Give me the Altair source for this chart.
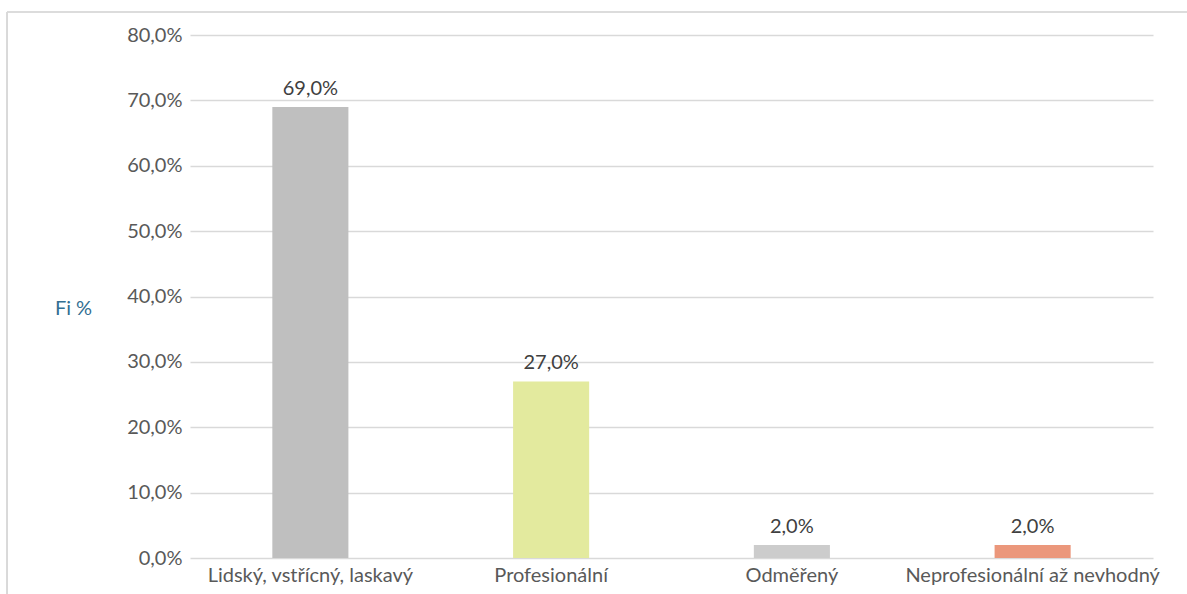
import altair as alt
import pandas as pd

categories = ["Lidský, vstřícný, laskavý", "Profesionální", "Odměřený", "Neprofesionální až nevhodný"]
shares = [0.69, 0.27, 0.02, 0.02]
bar_colors = ["#BFBFBF", "#E3EA9E", "#CCCCCC", "#EB977B"]
y_ticks = [0.0, 0.1, 0.2, 0.3, 0.4, 0.5, 0.6, 0.7, 0.8]

df = pd.DataFrame({"kategorie": categories, "podil": shares, "barva": bar_colors})

FONT = "Lato"
FS = 20
TEXT = "#595959"

x_enc = alt.X(
    "kategorie:N",
    sort=categories,
    scale=alt.Scale(paddingInner=0.684, paddingOuter=0.342),
    axis=alt.Axis(
        title=None, labelAngle=0, ticks=False, domain=False, labelLimit=0, grid=False,
        labelFont=FONT, labelFontSize=FS, labelColor=TEXT, labelPadding=7,
    ),
)

y_enc = alt.Y(
    "podil:Q",
    scale=alt.Scale(domain=[0, 0.8], nice=False),
    axis=alt.Axis(
        values=y_ticks,
        labelExpr="replace(format(datum.value, '.1%'), '.', ',')",
        title="Fi %", titleAngle=0, titleX=-117, titleY=273,
        titleAlign="center", titleBaseline="middle",
        titleFont=FONT, titleFontSize=FS, titleFontWeight="normal", titleColor="#336F92",
        labelFont=FONT, labelFontSize=FS, labelColor=TEXT, labelPadding=8,
        ticks=False, domain=False,
        grid=True, gridColor="#D9D9D9", gridWidth=1.5,
    ),
)

bars = alt.Chart(df).mark_bar().encode(
    x=x_enc,
    y=y_enc,
    color=alt.Color("barva:N", scale=None),
)

labels = alt.Chart(df).transform_calculate(
    popis="replace(format(datum.podil, '.1%'), '.', ',')"
).mark_text(
    font=FONT, fontSize=FS, color="#404040", baseline="alphabetic", dy=-12
).encode(
    x=alt.X("kategorie:N", sort=categories),
    y="podil:Q",
    text="popis:N",
)

# outer frame of the chart area, drawn as four separate edges
frame_top = alt.Chart(df).mark_rule(color="#D9D9D9", strokeWidth=1.2).encode(
    x=alt.value(-183), x2=alt.value(1100), y=alt.value(-23),
)
frame_left = alt.Chart(df).mark_rule(color="#D9D9D9", strokeWidth=1.2).encode(
    x=alt.value(-183), y=alt.value(-23), y2=alt.value(600),
)

chart = alt.layer(frame_top, frame_left, bars, labels).properties(
    width=963, height=523,
    padding={"left": 190, "top": 35, "right": 34, "bottom": 36},
    autosize=alt.AutoSizeParams(type="none"),
    view=alt.ViewBackground(stroke="transparent"),
).configure_view(stroke="transparent", strokeWidth=0).configure(background="white")

chart.save("out.html", embed_options={"renderer": "svg", "actions": False})
